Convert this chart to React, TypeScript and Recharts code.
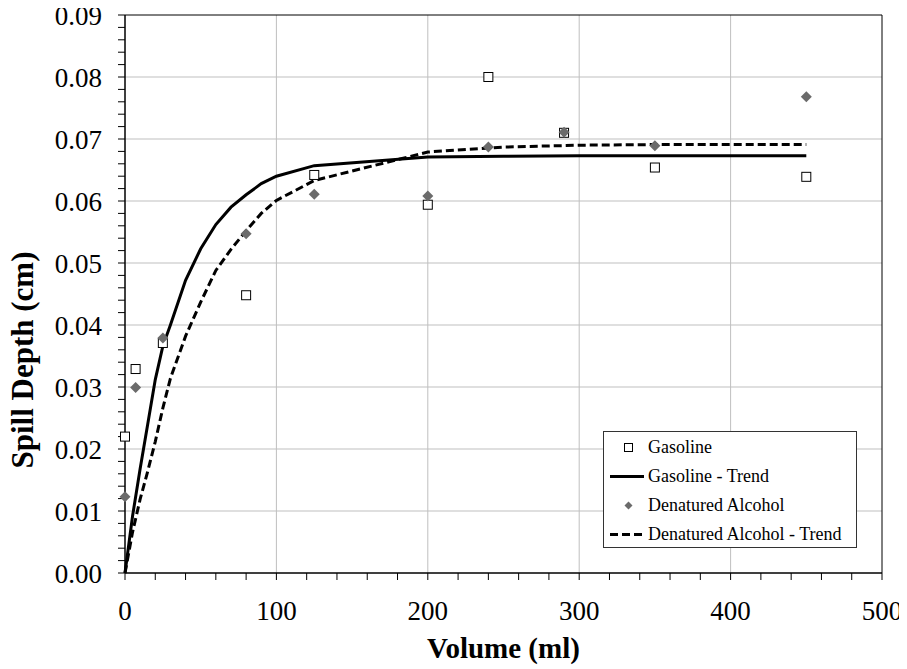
import { ComposedChart, Line, Scatter, XAxis, YAxis, CartesianGrid, ReferenceArea } from 'recharts';

// measured points
const VOLUME = [0, 7, 25, 80, 125, 200, 240, 290, 350, 450];
const GASOLINE = [0.022, 0.0329, 0.0371, 0.0448, 0.0642, 0.0594, 0.08, 0.071, 0.0654, 0.0639];
const ALCOHOL = [0.0123, 0.0299, 0.0379, 0.0547, 0.0611, 0.0608, 0.0687, 0.0711, 0.0689, 0.0768];

// trend curves
const TREND_X = [0, 5, 10, 15, 20, 25, 30, 40, 50, 60, 70, 80, 90, 100, 125, 200, 250, 300, 350, 400, 450];
const GASOLINE_TREND = [0, 0.0092, 0.0168, 0.024, 0.0312, 0.0366, 0.04, 0.0472, 0.0523, 0.0562, 0.059, 0.061, 0.0628, 0.064, 0.0657, 0.0671, 0.0672, 0.0673, 0.0673, 0.0673, 0.0673];
const ALCOHOL_TREND = [0, 0.0066, 0.0119, 0.0164, 0.0212, 0.0266, 0.0314, 0.0382, 0.0437, 0.0488, 0.0522, 0.0552, 0.058, 0.0601, 0.0633, 0.0679, 0.0687, 0.069, 0.0691, 0.0691, 0.0691];

const X_MAJOR = [0, 100, 200, 300, 400, 500];
const Y_MAJOR = [0, 0.01, 0.02, 0.03, 0.04, 0.05, 0.06, 0.07, 0.08, 0.09];
const X_TICKS = Array.from({ length: 26 }, (_, i) => i * 20);
const Y_TICKS = Array.from({ length: 46 }, (_, i) => +(i * 0.002).toFixed(3));

const FONT = '"Liberation Serif", "Times New Roman", serif';

const pair = (xs: number[], ys: number[]) => xs.map((x, i) => ({ x, y: ys[i] }));
const isMajor = (list: number[], v: number) => list.some(m => Math.abs(m - v) < 1e-9);

const YTick = (props: any) => {
  const { x, y, payload } = props;
  if (!isMajor(Y_MAJOR, payload.value)) return <g />;
  return (
    <text x={x} y={y} dy="0.36em" textAnchor="end" fontFamily={FONT} fontSize={27} fill="#000">
      {payload.value.toFixed(2)}
    </text>
  );
};

const XTick = (props: any) => {
  const { x, y, payload } = props;
  if (!isMajor(X_MAJOR, payload.value)) return <g />;
  return (
    <text x={x} y={y} dy="0.71em" textAnchor="middle" fontFamily={FONT} fontSize={27} fill="#000">
      {payload.value}
    </text>
  );
};

const SquareMark = (props: any) => {
  const { cx, cy } = props;
  return <rect x={cx - 4.5} y={cy - 4.5} width={9} height={9} fill="#fff" stroke="#000" strokeWidth={1} />;
};

const DiamondMark = (props: any) => {
  const { cx, cy } = props;
  const r = 5.5;
  return <polygon points={`${cx},${cy - r} ${cx + r},${cy} ${cx},${cy + r} ${cx - r},${cy}`} fill="#6b6b6b" />;
};

const LegendBox = () => {
  const rows = [
    { label: 'Gasoline', kind: 'square' },
    { label: 'Gasoline - Trend', kind: 'solid' },
    { label: 'Denatured Alcohol', kind: 'diamond' },
    { label: 'Denatured Alcohol - Trend', kind: 'dashed' },
  ];
  return (
    <div
      style={{
        position: 'absolute', left: 603, top: 431, width: 252, height: 114,
        border: '1px solid #333', background: '#fff', fontFamily: FONT, fontSize: 18, paddingTop: 1,
      }}
    >
      {rows.map(r => (
        <div key={r.label} style={{ display: 'flex', alignItems: 'center', height: 29 }}>
          <svg width={41} height={29} style={{ flex: 'none' }}>
            {r.kind === 'square' && <rect x={20.5} y={10.5} width={8} height={8} fill="#fff" stroke="#000" />}
            {r.kind === 'diamond' && <polygon points="24.5,10.5 28.5,14.5 24.5,18.5 20.5,14.5" fill="#6b6b6b" />}
            {r.kind === 'solid' && <line x1={6} x2={40} y1={14.5} y2={14.5} stroke="#000" strokeWidth={3} />}
            {r.kind === 'dashed' && <line x1={6} x2={40} y1={14.5} y2={14.5} stroke="#000" strokeWidth={3} strokeDasharray="8 4" />}
          </svg>
          <span style={{ marginLeft: 3, whiteSpace: 'nowrap' }}>{r.label}</span>
        </div>
      ))}
    </div>
  );
};

export default function App() {
  return (
    <div style={{ position: 'relative', width: 907, height: 669, margin: '-8px 0 0 -8px' }}>
      <ComposedChart width={907} height={669} margin={{ top: 15, right: 25, left: 0, bottom: 0 }}>
        <CartesianGrid
          stroke="#bfbfbf"
          verticalValues={[100, 200, 300, 400]}
          horizontalValues={[0.01, 0.02, 0.03, 0.04, 0.05, 0.06, 0.07, 0.08]}
        />
        <ReferenceArea x1={0} x2={500} y1={0} y2={0.09} stroke="#000" strokeWidth={1} fill="none" fillOpacity={0} />
        <XAxis
          type="number"
          dataKey="x"
          domain={[0, 500]}
          ticks={X_TICKS}
          interval={0}
          height={96}
          tickSize={7}
          tickMargin={21}
          stroke="#000"
          tick={<XTick />}
          label={{
            content: (p: any) => (
              <text
                x={p.viewBox.x + p.viewBox.width / 2}
                y={p.viewBox.y + 85}
                textAnchor="middle"
                fontFamily={FONT}
                fontWeight="bold"
                fontSize={29}
                fill="#000"
              >
                Volume (ml)
              </text>
            ),
          }}
        />
        <YAxis
          type="number"
          dataKey="y"
          domain={[0, 0.09]}
          ticks={Y_TICKS}
          interval={0}
          width={125}
          tickSize={7}
          tickMargin={16}
          stroke="#000"
          tick={<YTick />}
          label={{
            content: (p: any) => {
              const cx = 33;
              const cy = p.viewBox.y + p.viewBox.height / 2 + 66;
              return (
                <text
                  x={cx}
                  y={cy}
                  transform={`rotate(-90, ${cx}, ${cy})`}
                  textAnchor="middle"
                  fontFamily={FONT}
                  fontWeight="bold"
                  fontSize={31}
                  fill="#000"
                >
                  Spill Depth (cm)
                </text>
              );
            },
          }}
        />
        <Line
          data={pair(TREND_X, GASOLINE_TREND)}
          dataKey="y"
          type="linear"
          stroke="#000"
          strokeWidth={3}
          dot={false}
          isAnimationActive={false}
        />
        <Line
          data={pair(TREND_X, ALCOHOL_TREND)}
          dataKey="y"
          type="linear"
          stroke="#000"
          strokeWidth={3}
          strokeDasharray="8 4"
          dot={false}
          isAnimationActive={false}
        />
        <Scatter data={pair(VOLUME, GASOLINE)} dataKey="y" shape={<SquareMark />} isAnimationActive={false} />
        <Scatter data={pair(VOLUME, ALCOHOL)} dataKey="y" shape={<DiamondMark />} isAnimationActive={false} />
      </ComposedChart>
      <LegendBox />
    </div>
  );
}
